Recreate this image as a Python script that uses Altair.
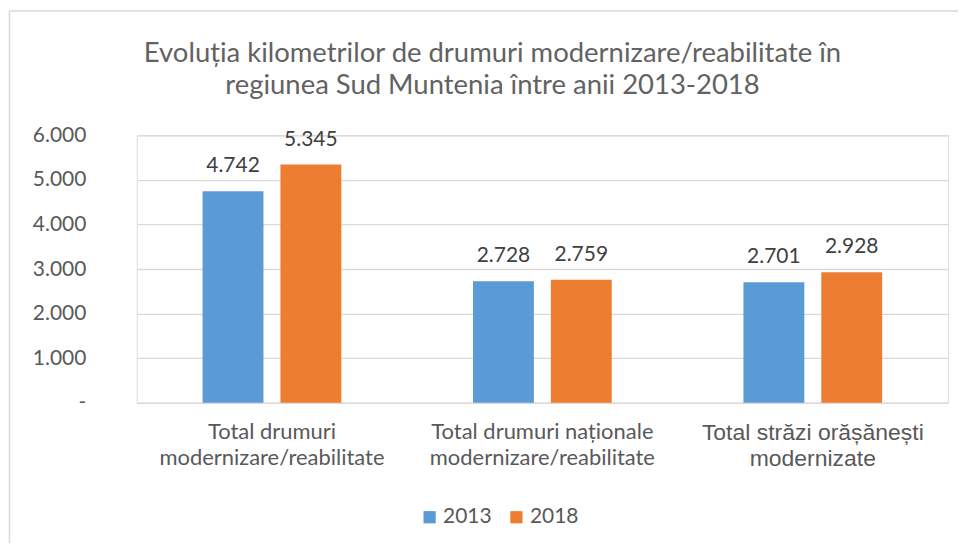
import altair as alt
import pandas as pd

categories = [
    "Total drumuri modernizare/reabilitate",
    "Total drumuri naționale modernizare/reabilitate",
    "Total străzi orășănești modernizate",
]
label_lines = {
    "Total drumuri modernizare/reabilitate": ["Total drumuri", "modernizare/reabilitate"],
    "Total drumuri naționale modernizare/reabilitate": ["Total drumuri naționale", "modernizare/reabilitate"],
    "Total străzi orășănești modernizate": ["Total străzi orășănești", "modernizate"],
}
years = ["2013", "2018"]
values_2013 = [4742, 2728, 2701]
values_2018 = [5345, 2759, 2928]
colors = ["#5b9bd5", "#ed7d31"]
title_lines = [
    "Evoluția kilometrilor de drumuri modernizare/reabilitate în",
    "regiunea Sud Muntenia între anii 2013-2018",
]

rows = []
for c, v1, v2 in zip(categories, values_2013, values_2018):
    rows.append({"cat": c, "year": years[0], "value": v1})
    rows.append({"cat": c, "year": years[1], "value": v2})
df = pd.DataFrame(rows)

parts = []
for c in categories:
    l1, l2 = label_lines[c]
    parts.append(f"datum.label == '{c}' ? ['{l1}', '{l2}']")
label_expr = " : ".join(parts) + " : datum.label"
third = categories[2]

FONT = "Lato"
GREY = "#595959"

x_enc = alt.X(
    "cat:N",
    sort=categories,
    scale=alt.Scale(paddingInner=0, paddingOuter=0),
    axis=alt.Axis(
        title=None,
        labelAngle=0,
        labelExpr=label_expr,
        labelColor=GREY,
        labelFont=alt.ExprRef(f"datum.value == '{third}' ? 'Liberation Sans' : '{FONT}'"),
        labelFontSize=alt.ExprRef(f"datum.value == '{third}' ? 23 : 22"),
        labelLineHeight=26,
        labelPadding=19,
        labelBaseline="top",
        labelLimit=0,
        ticks=False,
        domain=False,
        grid=False,
    ),
)
xoff = alt.XOffset(
    "year:N",
    sort=years,
    scale=alt.Scale(paddingInner=0.218, paddingOuter=0.846),
)

base = alt.Chart(df)

bars = base.mark_bar().encode(
    x=x_enc,
    xOffset=xoff,
    y=alt.Y(
        "value:Q",
        scale=alt.Scale(domain=[0, 6000], nice=False),
        axis=alt.Axis(
            title=None,
            values=[0, 1000, 2000, 3000, 4000, 5000, 6000],
            labelExpr="datum.value == 0 ? '-\u00a0\u00a0\u00a0' : replace(format(datum.value, ',.0f'), ',', '.')",
            labelColor=GREY,
            labelFont=FONT,
            labelFontSize=21,
            labelPadding=51,
            ticks=False,
            domain=False,
            gridColor="#d9d9d9",
            gridWidth=1.3,
        ),
    ),
    color=alt.Color(
        "year:N",
        sort=years,
        scale=alt.Scale(domain=years, range=colors),
        legend=alt.Legend(
            title=None,
            orient="none",
            direction="horizontal",
            legendX=283,
            legendY=372,
            symbolType="square",
            symbolSize=150,
            symbolStrokeWidth=0,
            labelFont=FONT,
            labelFontSize=21,
            labelColor=GREY,
            labelOffset=3,
            columnPadding=14,
        ),
    ),
)

texts = base.transform_calculate(
    lbl="replace(format(datum.value, ',.0f'), ',', '.')"
).mark_text(
    baseline="alphabetic", dy=-19, font=FONT, fontSize=21, color="#404040"
).encode(
    x=alt.X("cat:N", sort=categories),
    xOffset=xoff,
    y=alt.Y("value:Q"),
    text="lbl:N",
)

frame = alt.Chart(pd.DataFrame({"k": [0]})).mark_rule(color="#d9d9d9", strokeWidth=1.5)
frame_left = frame.encode(x=alt.value(-127.5), y=alt.value(-124.5), y2=alt.value(420))
frame_top = frame.encode(x=alt.value(-127.5), x2=alt.value(840), y=alt.value(-124.5))

chart = alt.layer(bars, texts, frame_left, frame_top).properties(
    width=813,
    height=268,
    padding={"left": 129, "top": 127, "right": 10, "bottom": 140},
    autosize=alt.AutoSizeParams(type="none"),
    title=alt.TitleParams(
        text=title_lines,
        font=FONT,
        fontSize=27.5,
        fontWeight="normal",
        color="#626262",
        lineHeight=32,
        anchor="middle",
        dx=-50,
        offset=-111,
        baseline="alphabetic",
    ),
).configure_view(strokeWidth=0).configure(background="white")

chart.save("out.html", embed_options={"renderer": "svg", "actions": False})
